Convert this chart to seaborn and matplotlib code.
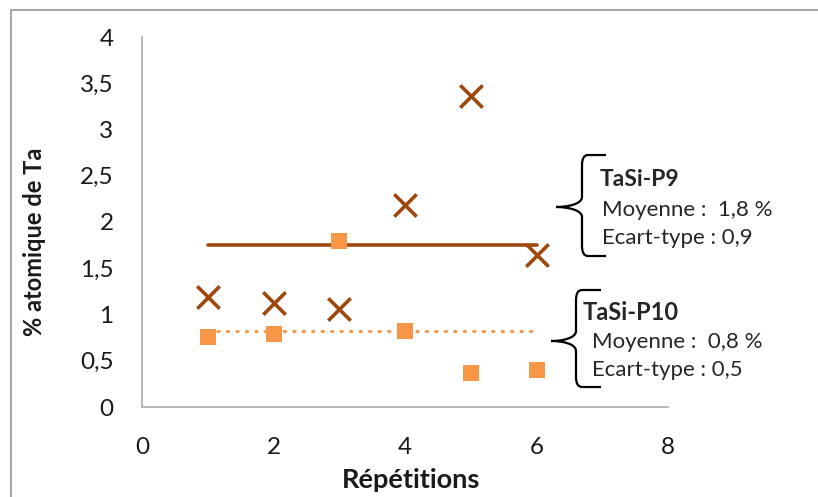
import matplotlib
matplotlib.use("Agg")
import matplotlib.pyplot as plt
import seaborn as sns
import pandas as pd
from matplotlib.lines import Line2D
from matplotlib.path import Path
from matplotlib.patches import PathPatch

# ---- data ----
repetitions = [1, 2, 3, 4, 5, 6]
p9_values = [1.19, 1.12, 1.06, 2.18, 3.36, 1.64]
p10_values = [0.76, 0.79, 1.79, 0.82, 0.37, 0.40]
p9_mean = 1.75
p10_mean = 0.82
mean_range = [1, 6]
x_ticks = [0, 2, 4, 6, 8]
y_ticks = [0, 0.5, 1, 1.5, 2, 2.5, 3, 3.5, 4]
y_tick_labels = ["0", "0,5", "1", "1,5", "2", "2,5", "3", "3,5", "4"]

C9 = "#9E480E"
C10 = "#F79646"

sns.set_theme(style="white")
plt.rcParams['font.family'] = ['Lato', 'DejaVu Sans']

W, H = 818, 497
fig = plt.figure(figsize=(W / 100, H / 100), dpi=100)
L, R, T, B = 142, 668, 37, 407
ax = fig.add_axes([L / W, 1 - B / H, (R - L) / W, (B - T) / H])

df9 = pd.DataFrame({"x": repetitions, "y": p9_values})
df10 = pd.DataFrame({"x": repetitions, "y": p10_values})
dm9 = pd.DataFrame({"x": mean_range, "y": [p9_mean, p9_mean]})
dm10 = pd.DataFrame({"x": mean_range, "y": [p10_mean, p10_mean]})

sns.lineplot(data=dm9, x="x", y="y", ax=ax, color=C9, lw=2.6, zorder=2,
             solid_capstyle="round")
sns.lineplot(data=dm10, x="x", y="y", ax=ax, color=C10, lw=2.2, zorder=2,
             dashes=False, linestyle=(0, (0.4, 2.7)), dash_capstyle="round")
sns.scatterplot(data=df10, x="x", y="y", ax=ax, marker="s", s=135, color=C10,
                edgecolor=C10, linewidth=0, zorder=3)
sns.scatterplot(data=df9, x="x", y="y", ax=ax, marker="x", s=260, color=C9,
                linewidth=2.6, zorder=4)

ax.set_xlim(0, 8)
ax.set_ylim(0, 4)
ax.set_xticks(x_ticks)
ax.set_yticks(y_ticks)
ax.set_yticklabels(y_tick_labels)
ax.tick_params(axis="both", labelsize=17.5, colors="#A0A0A0", labelcolor="#1a1a1a",
               length=7.5, width=1.2, direction="out")
ax.tick_params(axis="x", pad=14)
ax.tick_params(axis="y", pad=13)
for s in ["top", "right"]:
    ax.spines[s].set_visible(False)
for s in ["left", "bottom"]:
    ax.spines[s].set_color("#B0B0B0")
    ax.spines[s].set_linewidth(1.3)
ax.set_xlabel("Répétitions", fontsize=19.5, fontweight="bold", va="center", color="#1a1a1a")
ax.set_ylabel("% atomique de Ta", fontsize=17, fontweight="bold", va="center",
              ha="center", color="#1a1a1a")
ax.xaxis.set_label_coords((411 - L) / (R - L), (B - 480) / (B - T))
ax.yaxis.set_label_coords((35 - L) / (R - L), (B - 242) / (B - T))

def fx(px):
    return px / W

def fy(py):
    return 1 - py / H

# outer frame
fig.add_artist(Line2D([fx(11), fx(11)], [fy(10), 0], color="#A6A6A6", lw=1.5,
                      transform=fig.transFigure))
fig.add_artist(Line2D([fx(11), 1], [fy(10), fy(10)], color="#A6A6A6", lw=1.5,
                      transform=fig.transFigure))

def brace(xv, top, bot, mid, arm_x, tip_x):
    r = 10
    verts = [
        (arm_x, top), (xv + 6, top), (xv, top), (xv, top + r),
        (xv, mid - r), (xv, mid - 3), (tip_x + 12, mid), (tip_x, mid),
        (tip_x + 12, mid), (xv, mid + 3), (xv, mid + r),
        (xv, bot - r), (xv, bot), (xv + 6, bot), (arm_x, bot),
    ]
    codes = [Path.MOVETO, Path.LINETO, Path.CURVE3, Path.CURVE3,
             Path.LINETO, Path.CURVE4, Path.CURVE4, Path.CURVE4,
             Path.CURVE4, Path.CURVE4, Path.CURVE4,
             Path.LINETO, Path.CURVE3, Path.CURVE3, Path.LINETO]
    verts = [(fx(a), fy(b)) for a, b in verts]
    fig.add_artist(PathPatch(Path(verts, codes), fill=False, lw=1.6,
                             edgecolor="black", transform=fig.transFigure))

brace(582, 155, 256, 207, 606, 556)
brace(576, 290, 387, 341, 601, 551)

fig.text(fx(600), fy(179), "TaSi-P9", fontsize=16.5, fontweight="bold",
         va="center", ha="left")
fig.text(fx(602), fy(210), "Moyenne :  1,8 %", fontsize=16, va="center", ha="left")
fig.text(fx(602), fy(238), "Ecart-type : 0,9", fontsize=16, va="center", ha="left")

fig.text(fx(583), fy(313), "TaSi-P10", fontsize=17, fontweight="bold",
         va="center", ha="left")
fig.text(fx(592), fy(342), "Moyenne :  0,8 %", fontsize=16, va="center", ha="left")
fig.text(fx(592), fy(370), "Ecart-type : 0,5", fontsize=16, va="center", ha="left")

fig.savefig("out.png", dpi=100, facecolor="white")
